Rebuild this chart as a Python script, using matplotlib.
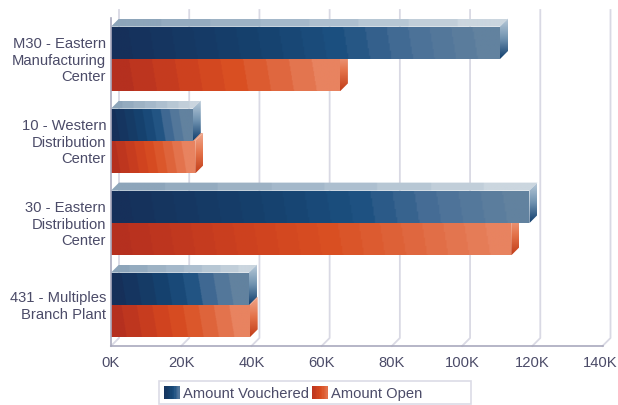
#!/usr/bin/env python3
"""Amount vouchered vs amount open by branch plant, pseudo-3D horizontal bars."""

import matplotlib
matplotlib.use('Agg')
import matplotlib.pyplot as plt
import numpy as np
from matplotlib.colors import LinearSegmentedColormap
from matplotlib.legend_handler import HandlerBase
from matplotlib.patches import Patch, Polygon, Rectangle
from matplotlib.transforms import ScaledTranslation

plt.rcParams['font.family'] = ['Liberation Sans', 'DejaVu Sans']

categories = ['M30 - Eastern\nManufacturing\nCenter', '10 - Western\nDistribution\nCenter',
              '30 - Eastern\nDistribution\nCenter', '431 - Multiples\nBranch Plant']
amount_vouchered = [110800, 23300, 119200, 39300]
amount_open = [65200, 24000, 114000, 39500]
x_ticks = [0, 20000, 40000, 60000, 80000, 100000, 120000, 140000]
x_labels = ['0K', '20K', '40K', '60K', '80K', '100K', '120K', '140K']
series_names = ['Amount Vouchered', 'Amount Open']

W, H = 618, 406
LEFT, RIGHT, TOP, BOTTOM = 111, 602.5, 19, 347
FONT = 10.6
TEXT = '#4b4b68'
GRID = '#d9d9e4'

blue_cmap = LinearSegmentedColormap.from_list(
    'b', [(0, '#16305a'), (0.35, '#15406c'), (0.6, '#1c5080'), (0.8, '#4a7098'), (1, '#62829f')])
red_cmap = LinearSegmentedColormap.from_list(
    'r', [(0, '#b5301f'), (0.35, '#cf421f'), (0.55, '#d94f22'), (0.8, '#e06a42'), (1, '#e88360')])
blue_top = LinearSegmentedColormap.from_list('bt', ['#8da5ba', '#a9bccd', '#cbd6df'])
red_top = LinearSegmentedColormap.from_list('rt', ['#e88a68', '#eda486'])
blue_side = LinearSegmentedColormap.from_list('bs', ['#b9cad8', '#6f92b0', '#123f6e'])
red_side = LinearSegmentedColormap.from_list('rs', ['#f0a88e', '#e4734a', '#c23e1a'])

fig = plt.figure(figsize=(W / 100, H / 100), dpi=100)
ax = fig.add_axes([LEFT / W, 1 - BOTTOM / H, (RIGHT - LEFT) / W, (BOTTOM - TOP) / H])
ax.set_xlim(0, 140000)
ax.set_ylim(3.5, -0.5)

# depth of the fake 3D box, in data units
dx = 8 * 140000 / (RIGHT - LEFT)
dy = 8 * 4 / (BOTTOM - TOP)
bar_h = 0.395


def fill_gradient(pts, cmap, horizontal=True, bands=None, skew=0.0, z=3):
    """Fill a polygon with a gradient image clipped to it."""
    pts = np.array(pts)
    x0, x1 = pts[:, 0].min(), pts[:, 0].max()
    y0, y1 = pts[:, 1].min(), pts[:, 1].max()
    xx, yy = np.meshgrid(np.linspace(0, 1, 300), np.linspace(0, 1, 40))
    g = xx + skew * (1 - yy) if horizontal else yy
    g = np.clip(g, 0, 1)
    if bands:
        g = np.floor(g * bands) / (bands - 1)
    im = ax.imshow(g, cmap=cmap, vmin=0, vmax=1, extent=(x0, x1, y1, y0), aspect='auto',
                   origin='upper', zorder=z, interpolation='bilinear')
    clip = Polygon(pts, closed=True, transform=ax.transData)
    im.set_clip_path(clip)
    im.set_clip_on(True)


def draw_bar(value, y0, y1, face, top, side, z):
    # short bars get fewer bands and a steeper slant, like the original render
    bands = max(9, int(value / 6000))
    fill_gradient([(0, y0), (value, y0), (value, y1), (0, y1)], face, bands=bands,
                  skew=1500 / value, z=z)
    fill_gradient([(0, y0), (dx, y0 - dy), (value + dx, y0 - dy), (value, y0)], top, bands=8, z=z)
    fill_gradient([(value, y0), (value + dx, y0 - dy), (value + dx, y1 - dy), (value, y1)],
                  side, horizontal=False, z=z)


# back wall grid and floor
for t in x_ticks:
    ax.plot([t + dx, t + dx, t], [-0.5 - dy, 3.5 - dy, 3.5], color=GRID, lw=1.3,
            clip_on=False, zorder=1)

for i in range(len(categories)):
    # red goes first so the blue top edge is not hidden where blue is longer
    draw_bar(amount_open[i], i, i + bar_h, red_cmap, red_top, red_side, 3)
    draw_bar(amount_vouchered[i], i - bar_h, i, blue_cmap, blue_top, blue_side, 4)

ax.set_xlim(0, 140000)
ax.set_ylim(3.5, -0.5)

ax.patch.set_visible(False)
for s in ['top', 'right']:
    ax.spines[s].set_visible(False)
for s in ['left', 'bottom']:
    ax.spines[s].set_color('#a9a9bd')
    ax.spines[s].set_linewidth(1.2)
    ax.spines[s].set_zorder(5)

ax.set_xticks(x_ticks)
ax.set_xticklabels(x_labels, fontsize=FONT, color=TEXT)
ax.set_yticks(range(len(categories)))
ax.set_yticklabels(categories, fontsize=FONT, color=TEXT, linespacing=1.2)
ax.tick_params(axis='both', length=0)
ax.tick_params(axis='x', pad=6.5)
ax.tick_params(axis='y', pad=3.5)

# nudges in pixels: last x label stays inside the image, y labels sit a bit high
last = ax.get_xticklabels()[-1]
last.set_transform(last.get_transform() + ScaledTranslation(-2 / 100, 0, fig.dpi_scale_trans))
for lab in ax.get_yticklabels():
    lab.set_transform(lab.get_transform() + ScaledTranslation(0, 2 / 100, fig.dpi_scale_trans))


class GradientSwatch(HandlerBase):
    """Legend key drawn as thin strips going from dark to lighter."""

    def create_artists(self, legend, orig, xd, yd, width, height, fontsize, trans):
        cmap = blue_cmap if orig.get_label() == series_names[0] else red_cmap
        n = 12
        out = []
        for k in range(n):
            out.append(Rectangle((xd * -1 + k * width / n, -yd), width / n + 0.3, height,
                                 facecolor=cmap(0.1 + 0.75 * k / (n - 1)), edgecolor='none',
                                 transform=trans))
        return out


# legend frame is wider than its entries, so it is drawn separately
fig.add_artist(Rectangle((158.5 / W, 1 - 404.5 / H), 312 / W, 22.5 / H, transform=fig.transFigure,
                         facecolor='white', edgecolor='#dcdce6', lw=1.2))
handles = [Patch(label=series_names[0]), Patch(label=series_names[1])]
fig.legend(handles=handles, handler_map={Patch: GradientSwatch()}, ncol=2,
           loc='center left', bbox_to_anchor=(164 / W, 1 - 394 / H), fontsize=FONT,
           labelcolor=TEXT, frameon=False,
           handlelength=1.05, handleheight=1.05, handletextpad=0.25, columnspacing=0.2,
           borderpad=0, borderaxespad=0)

fig.savefig('out.png', dpi=100)
